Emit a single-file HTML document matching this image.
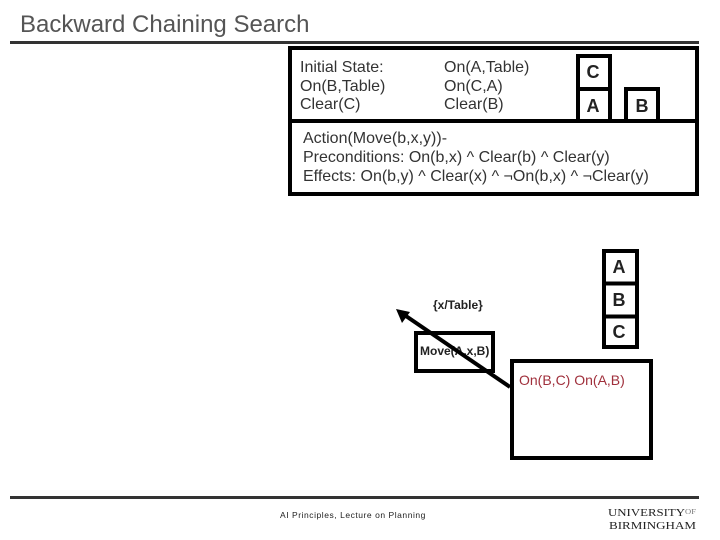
<!DOCTYPE html>
<html>
<head>
<meta charset="utf-8">
<style>
html,body{margin:0;padding:0;background:#fff;}
svg{display:block;}
text{font-family:"Liberation Sans",sans-serif;}
</style>
</head>
<body>
<svg width="720" height="540" viewBox="0 0 720 540" xmlns="http://www.w3.org/2000/svg">
<rect width="720" height="540" fill="#fff"/>
<text x="20" y="32" font-size="24" fill="#555">Backward Chaining Search</text>
<rect x="10" y="41" width="689" height="3" fill="#333"/>
<rect x="10" y="496" width="689" height="3" fill="#333"/>

<!-- big box -->
<rect x="290" y="48" width="407" height="146" fill="#fff" stroke="#000" stroke-width="4"/>
<rect x="290" y="119" width="407" height="4" fill="#000"/>

<g font-size="16" fill="#333">
<text x="300" y="72">Initial State:</text>
<text x="300" y="91">On(B,Table)</text>
<text x="300" y="109">Clear(C)</text>
<text x="444" y="72">On(A,Table)</text>
<text x="444" y="91">On(C,A)</text>
<text x="444" y="109">Clear(B)</text>
<text x="303" y="143">Action(Move(b,x,y))-</text>
<text x="303" y="162">Preconditions: On(b,x) ^ Clear(b) ^ Clear(y)</text>
<text x="303" y="181">Effects: On(b,y) ^ Clear(x) ^ ¬On(b,x) ^ ¬Clear(y)</text>
</g>

<!-- blocks top -->
<g fill="none" stroke="#000" stroke-width="4">
<rect x="578" y="56" width="32" height="33"/>
<path d="M578 89V119M610 89V119"/>
<path d="M626 119V89H658V119"/>
</g>
<g font-size="18" font-weight="bold" fill="#222" text-anchor="middle">
<text x="593" y="78">C</text>
<text x="593" y="112">A</text>
<text x="642" y="112">B</text>
</g>

<!-- blocks stack -->
<g fill="none" stroke="#000" stroke-width="4">
<rect x="604" y="251" width="33" height="96"/>
<path d="M604 283.500H637M604 316.500H637"/>
</g>
<g font-size="18" font-weight="bold" fill="#222" text-anchor="middle">
<text x="619" y="273">A</text>
<text x="619" y="306">B</text>
<text x="619" y="338">C</text>
</g>

<!-- move box -->
<rect x="416" y="333" width="77" height="38" fill="#fff" stroke="#000" stroke-width="4"/>
<text x="420" y="355" font-size="12" font-weight="bold" fill="#222">Move(A,x,B)</text>
<text x="433" y="309" font-size="12" font-weight="bold" fill="#222">{x/Table}</text>

<!-- red box -->
<rect x="512" y="361" width="139" height="97" fill="#fff" stroke="#000" stroke-width="4"/>
<text x="519" y="385" font-size="14" fill="#a0303c">On(B,C) On(A,B)</text>

<!-- arrow -->
<line x1="510" y1="387" x2="403" y2="314" stroke="#000" stroke-width="4"/>
<polygon points="396,309 410,312 402,323" fill="#000"/>

<!-- footer -->
<text x="280" y="518" font-size="8.5" fill="#222" letter-spacing="0.54">AI Principles, Lecture on Planning</text>
<text x="608" y="516" font-size="10.500" fill="#222" style="font-family:'Liberation Serif',serif" textLength="88" lengthAdjust="spacingAndGlyphs">UNIVERSITY<tspan font-size="7" fill="#777" dy="-2">OF</tspan></text>
<text x="609" y="529" font-size="10.500" fill="#222" style="font-family:'Liberation Serif',serif" textLength="87" lengthAdjust="spacingAndGlyphs">BIRMINGHAM</text>
</svg>
</body>
</html>
